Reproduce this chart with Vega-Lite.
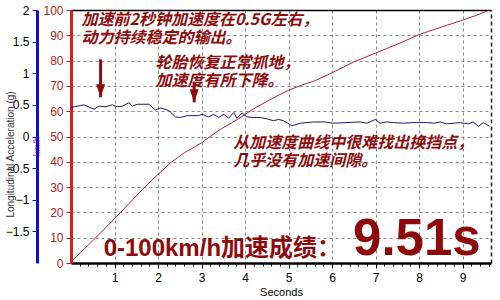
{
  "$schema": "https://vega.github.io/schema/vega-lite/v6.json",
  "width": 420,
  "height": 253,
  "autosize": {"type": "none"},
  "padding": {"left": 71, "top": 10, "right": 9, "bottom": 37},
  "background": "white",
  "config": {
    "view": {"stroke": null},
    "font": "Liberation Sans",
    "axis": {"labelFont": "Liberation Sans", "titleFont": "Liberation Sans", "titleFontWeight": "normal"}
  },
  "datasets": {
    "speed": [
      {"t": 0, "v": 0.5}, {"t": 0.5, "v": 8.8}, {"t": 1.0, "v": 17.5}, {"t": 1.5, "v": 26.5},
      {"t": 1.75, "v": 31}, {"t": 2.0, "v": 35}, {"t": 2.3, "v": 39.8}, {"t": 2.6, "v": 43.5},
      {"t": 3.0, "v": 47.5}, {"t": 3.4, "v": 52.5}, {"t": 3.85, "v": 57}, {"t": 4.2, "v": 61},
      {"t": 4.6, "v": 64.8}, {"t": 5.0, "v": 68.3}, {"t": 5.3, "v": 70.3}, {"t": 5.6, "v": 72},
      {"t": 6.0, "v": 75.2}, {"t": 6.5, "v": 79.5}, {"t": 7.0, "v": 83}, {"t": 7.5, "v": 86.5},
      {"t": 8.0, "v": 90.3}, {"t": 8.5, "v": 93.2}, {"t": 9.0, "v": 96}, {"t": 9.3, "v": 97.8},
      {"t": 9.62, "v": 100}
    ],
    "accel": [
      {"t": 0.0, "g": 0.46}, {"t": 0.3, "g": 0.5}, {"t": 0.53, "g": 0.43}, {"t": 0.64, "g": 0.48},
      {"t": 0.79, "g": 0.47}, {"t": 0.95, "g": 0.5}, {"t": 1.06, "g": 0.47}, {"t": 1.18, "g": 0.48},
      {"t": 1.33, "g": 0.535}, {"t": 1.41, "g": 0.48}, {"t": 1.52, "g": 0.51}, {"t": 1.79, "g": 0.51},
      {"t": 1.94, "g": 0.42}, {"t": 2.06, "g": 0.45}, {"t": 2.21, "g": 0.42}, {"t": 2.28, "g": 0.39},
      {"t": 2.4, "g": 0.31}, {"t": 2.51, "g": 0.3}, {"t": 2.67, "g": 0.33}, {"t": 2.93, "g": 0.33},
      {"t": 3.01, "g": 0.35}, {"t": 3.16, "g": 0.31}, {"t": 3.28, "g": 0.35}, {"t": 3.39, "g": 0.3},
      {"t": 3.51, "g": 0.35}, {"t": 3.62, "g": 0.29}, {"t": 3.74, "g": 0.38}, {"t": 3.81, "g": 0.29},
      {"t": 3.93, "g": 0.37}, {"t": 4.04, "g": 0.31}, {"t": 4.19, "g": 0.3}, {"t": 4.35, "g": 0.3},
      {"t": 4.5, "g": 0.28}, {"t": 4.65, "g": 0.25}, {"t": 4.77, "g": 0.27}, {"t": 4.88, "g": 0.25},
      {"t": 5.08, "g": 0.17}, {"t": 5.27, "g": 0.21}, {"t": 5.57, "g": 0.23}, {"t": 5.84, "g": 0.23},
      {"t": 6.03, "g": 0.21}, {"t": 6.34, "g": 0.22}, {"t": 6.64, "g": 0.23}, {"t": 6.8, "g": 0.21},
      {"t": 6.99, "g": 0.27}, {"t": 7.1, "g": 0.21}, {"t": 7.25, "g": 0.23}, {"t": 7.41, "g": 0.22},
      {"t": 7.64, "g": 0.21}, {"t": 7.86, "g": 0.22}, {"t": 8.17, "g": 0.22}, {"t": 8.36, "g": 0.21},
      {"t": 8.48, "g": 0.23}, {"t": 8.63, "g": 0.2}, {"t": 8.94, "g": 0.22}, {"t": 9.13, "g": 0.2},
      {"t": 9.24, "g": 0.23}, {"t": 9.36, "g": 0.16}, {"t": 9.47, "g": 0.22}, {"t": 9.62, "g": 0.16}
    ],
    "notes": [
      {"t": 0.24, "v": 96.0, "text": "加速前2秒钟加速度在0.5G左右，"},
      {"t": 0.24, "v": 88.9, "text": "动力持续稳定的输出。"},
      {"t": 1.94, "v": 79.2, "text": "轮胎恢复正常抓地，"},
      {"t": 1.94, "v": 72.0, "text": "加速度有所下降。"},
      {"t": 3.73, "v": 47.4, "text": "从加速度曲线中很难找出换挡点，"},
      {"t": 3.73, "v": 40.3, "text": "几乎没有加速间隙。"}
    ],
    "result": [
      {"t": 0.75, "v": 2.8, "text": "0-100km/h加速成绩：", "kind": "label"},
      {"t": 6.48, "v": 3.0, "text": "9.51s", "kind": "value"}
    ],
    "arrows": [
      {"t": 0.68, "top": 80.5, "tip": 65.5},
      {"t": 2.83, "top": 71.4, "tip": 63.5}
    ]
  },
  "resolve": {
    "scale": {"y": "independent"},
    "axis": {"x": "independent", "y": "independent"}
  },
  "layer": [
    {
      "data": {"name": "speed"},
      "mark": {"type": "line", "color": "#b8203a", "strokeWidth": 1},
      "encoding": {
        "x": {
          "field": "t", "type": "quantitative",
          "scale": {"domain": [0, 9.65], "nice": false, "zero": false},
          "axis": {
            "orient": "bottom", "values": [1, 2, 3, 4, 5, 6, 7, 8, 9],
            "title": "Seconds", "titleFontSize": 11, "titleColor": "#000", "titlePadding": 3,
            "labelFontSize": 12, "labelColor": "#000", "labelPadding": 4,
            "domainColor": "#000", "domainWidth": 2.5, "tickColor": "#000", "tickSize": 5,
            "grid": true, "gridColor": "#888", "gridDash": [3, 3], "gridWidth": 1
          }
        },
        "y": {
          "field": "v", "type": "quantitative",
          "scale": {"domain": [0, 100], "nice": false},
          "axis": {
            "orient": "left", "values": [0, 10, 20, 30, 40, 50, 60, 70, 80, 90, 100],
            "labelColor": "#a82828", "labelFontSize": 12, "labelPadding": 3,
            "domainColor": "#d82020", "domainWidth": 3, "tickColor": "#c02020", "tickSize": 5,
            "grid": true, "gridColor": "#888", "gridDash": [3, 3], "gridWidth": 1,
            "title": "km/h", "titleColor": "#c040c0", "titleFontSize": 9,
            "titleX": -35, "titleY": 136, "titleAngle": -90, "titleAlign": "center", "titleBaseline": "middle"
          }
        }
      }
    },
    {
      "data": {"name": "accel"},
      "mark": {"type": "line", "color": "#1c1c64", "strokeWidth": 1},
      "encoding": {
        "x": {
          "field": "t", "type": "quantitative",
          "axis": {"orient": "top", "labels": false, "ticks": false, "grid": false, "title": null,
                   "domainColor": "#000", "domainWidth": 1.5}
        },
        "y": {
          "field": "g", "type": "quantitative",
          "scale": {"domain": [-2, 2], "nice": false},
          "axis": {
            "orient": "left", "offset": 34,
            "values": [-1.5, -1, -0.5, 0, 0.5, 1, 1.5, 2], "format": "~g",
            "labelColor": "#000", "labelFontSize": 12, "labelPadding": 3,
            "domainColor": "#1010c0", "domainWidth": 3, "tickColor": "#1010c0", "tickSize": 5,
            "grid": false,
            "title": "Longitudinal Acceleration (g)", "titleFontSize": 10, "titleColor": "#333",
            "titleX": -27, "titleY": 144, "titleAngle": -90, "titleAlign": "center", "titleBaseline": "middle"
          }
        }
      }
    },
    {
      "data": {"name": "notes"},
      "mark": {"type": "text", "align": "left", "baseline": "middle", "font": "Noto Sans CJK SC",
               "fontSize": 16, "fontWeight": "bold", "fontStyle": "italic", "color": "#8e0c0c"},
      "encoding": {
        "x": {"field": "t", "type": "quantitative", "axis": null},
        "y": {
          "field": "v", "type": "quantitative",
          "scale": {"domain": [0, 100], "nice": false},
          "axis": {"orient": "right", "labels": false, "ticks": false, "grid": false, "title": null,
                   "domainColor": "#222", "domainWidth": 1.5, "domainDash": [4, 3]}
        },
        "text": {"field": "text"}
      }
    },
    {
      "data": {"name": "result"},
      "mark": {"type": "text", "align": "left", "baseline": "alphabetic", "font": "Liberation Sans, Noto Sans CJK SC",
               "fontWeight": "bold", "color": "#8e0a0a"},
      "encoding": {
        "x": {"field": "t", "type": "quantitative", "axis": null},
        "y": {"field": "v", "type": "quantitative", "scale": {"domain": [0, 100], "nice": false}, "axis": null},
        "text": {"field": "text"},
        "size": {"field": "kind", "type": "nominal", "scale": {"domain": ["label", "value"], "range": [24, 51]}, "legend": null}
      }
    },
    {
      "data": {"name": "arrows"},
      "mark": {"type": "rule", "color": "#8e0c0c", "strokeWidth": 3},
      "encoding": {
        "x": {
          "field": "t", "type": "quantitative",
          "axis": {"orient": "bottom", "values": [0.2, 0.4, 0.6, 0.8, 1.2, 1.4, 1.6, 1.8, 2.2, 2.4, 2.6, 2.8, 3.2, 3.4, 3.6, 3.8, 4.2, 4.4, 4.6, 4.8, 5.2, 5.4, 5.6, 5.8, 6.2, 6.4, 6.6, 6.8, 7.2, 7.4, 7.6, 7.8, 8.2, 8.4, 8.6, 8.8, 9.2, 9.4, 9.6],
                   "labels": false, "domain": false, "grid": false, "title": null, "tickSize": 3, "tickColor": "#000"}
        },
        "y": {"field": "top", "type": "quantitative", "scale": {"domain": [0, 100], "nice": false}, "axis": null},
        "y2": {"field": "tip"}
      }
    },
    {
      "data": {"name": "arrows"},
      "mark": {"type": "point", "shape": "M-0.9,-2.6L0.9,-2.6L0,0Z", "size": 100, "filled": true,
               "color": "#8e0c0c", "opacity": 1},
      "encoding": {
        "x": {"field": "t", "type": "quantitative", "axis": null},
        "y": {"field": "tip", "type": "quantitative", "scale": {"domain": [0, 100], "nice": false}, "axis": null}
      }
    }
  ]
}
